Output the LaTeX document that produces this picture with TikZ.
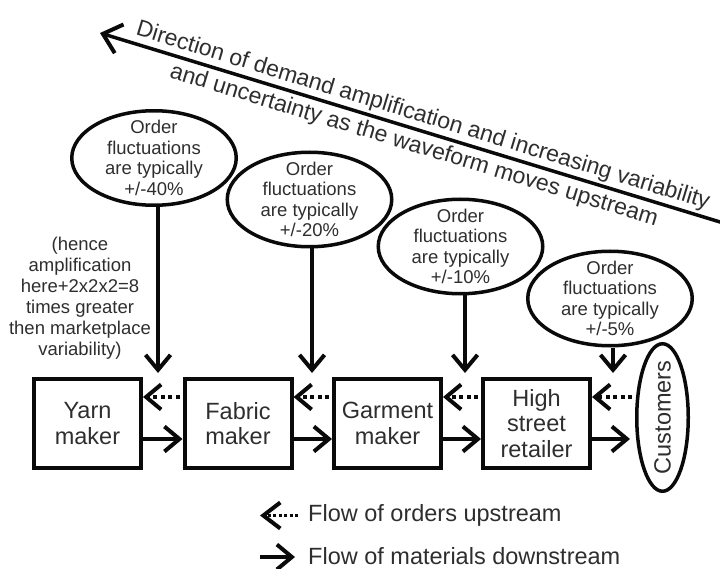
\documentclass[tikz,border=0pt]{standalone}
\usepackage{fontspec}
\setmainfont{Liberation Sans}
\usetikzlibrary{arrows.meta,shapes.geometric,calc}

\definecolor{ink}{HTML}{0A0A0A}
\definecolor{txt}{HTML}{2E2E2E}

\begin{document}
\begin{tikzpicture}[x=1pt,y=-1pt,
  barb/.style={-{Straight Barb[length=15pt,width=25pt,line width=4pt]}},
  conn/.style={draw=ink, line width=3.5pt, barb},
  orders/.style={conn, dash pattern=on 4pt off 3.5pt, shorten <=3pt},
  stage/.style={draw=ink, line width=4pt, minimum width=107pt, minimum height=89pt,
    inner sep=0pt, align=center, text=txt, font=\fontsize{23.5}{25.5}\selectfont},
  bubble/.style={ellipse, draw=ink, line width=3.5pt, minimum width=164.5pt, minimum height=94.5pt,
    inner xsep=-10pt, inner ysep=-25pt, align=center, text=txt,
    font=\fontsize{18.5}{20.5}\selectfont},
  note/.style={align=center, text=txt, inner sep=0pt, font=\fontsize{18.5}{21}\selectfont},
  slant/.style={text=txt, inner sep=0pt, sloped, font=\fontsize{23}{25}\selectfont},
  legend/.style={anchor=base west, text=txt, inner sep=0pt, font=\fontsize{23.5}{25}\selectfont}
]
\clip (0,0) rectangle (720,569);

% Supply chain stages
\node[stage] (yarn)    at (87.5,423.5)  {Yarn\\maker};
\node[stage] (fabric)  at (238,423.5)   {Fabric\\maker};
\node[stage] (garment) at (387.5,423.5) {Garment\\maker};
\node[stage] (retail)  at (536.5,423.5) {High\\street\\retailer};
\node[ellipse, draw=ink, line width=3.5pt, minimum width=51.5pt, minimum height=147.5pt,
  inner xsep=0pt, inner ysep=-8pt, text=txt, font=\fontsize{23.5}{25}\selectfont]
  (cust) at (662.5,417.5) {\rotatebox{90}{Customers}};

% Order fluctuation bubbles
\node[bubble] (b1) at (154,158)     {Order\\fluctuations\\are typically\\+/-40\%};
\node[bubble] (b2) at (309.5,199.5) {Order\\fluctuations\\are typically\\+/-20\%};
\node[bubble] (b3) at (460.5,246.5) {Order\\fluctuations\\are typically\\+/-10\%};
\node[bubble] (b4) at (610,298.5)   {Order\\fluctuations\\are typically\\+/-5\%};

\node[note] (hence) at (80,298)
  {(hence\\amplification\\here+2x2x2=8\\times greater\\then marketplace\\variability)};

% Levels of the two horizontal flows and the ends of the bubble arrows
\coordinate (yo) at (0,397);
\coordinate (ym) at (0,439);
\coordinate (d1) at (158,373);
\coordinate (d2) at (312,373);
\coordinate (d3) at (465,373);
\coordinate (d4) at (613,373);

% Bubble arrows down to the chain
\draw[conn] (b1.south -| d1) -- (d1);
\draw[conn] (b2.south -| d2) -- (d2);
\draw[conn] (b3.south -| d3) -- (d3);
\draw[conn] (b4.south -| d4) -- (d4);

% Orders flowing upstream
\draw[orders] (fabric.west |- yo)  -- (yarn.east |- yo);
\draw[orders] (garment.west |- yo) -- (fabric.east |- yo);
\draw[orders] (retail.west |- yo)  -- (garment.east |- yo);
\draw[orders] (cust.west |- yo)    -- (retail.east |- yo);

% Materials flowing downstream
\draw[conn] (yarn.east |- ym)    -- (fabric.west |- ym);
\draw[conn] (fabric.east |- ym)  -- (garment.west |- ym);
\draw[conn] (garment.east |- ym) -- (retail.west |- ym);
\draw[conn] (retail.east |- ym)  -- ($(cust.west |- ym)+(-5,0)$);

% Direction of amplification
\coordinate (dirL) at (100,33);
\coordinate (dirR) at (725,223.5);
\draw[draw=ink, line width=3.5pt, {Straight Barb[length=17pt,width=30pt,line width=4pt]}-]
  (dirL) -- (dirR)
  node[slant, pos=0.51, above=2pt] (dirtop) {Direction of demand amplification and increasing variability}
  node[slant, pos=0.51, below=4pt] (dirbot) {and uncertainty as the waveform moves upstream};

% Legend
\coordinate (lo1) at (298,515.5);
\coordinate (lo2) at (260,515.5);
\coordinate (lm1) at (260,557);
\coordinate (lm2) at (295,557);
\draw[orders, shorten <=0pt, dash pattern=on 3pt off 2.5pt,
  -{Straight Barb[length=17pt,width=26pt,line width=4pt]}] (lo1) -- (lo2);
\draw[conn] (lm1) -- (lm2);
\node[legend] (lgo) at (308,521) {Flow of orders upstream};
\node[legend] (lgm) at (308,564) {Flow of materials downstream};
\end{tikzpicture}
\end{document}
